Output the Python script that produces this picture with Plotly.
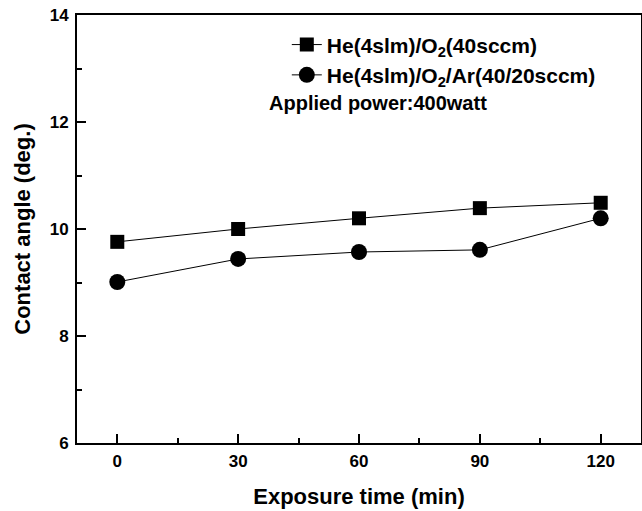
import plotly.graph_objects as go

time_min = [0, 30, 60, 90, 120]
he_o2 = [9.76, 10.0, 10.2, 10.39, 10.49]
he_o2_ar = [9.01, 9.44, 9.57, 9.61, 10.2]
name1 = "He(4slm)/O<sub>2</sub>(40sccm)"
name2 = "He(4slm)/O<sub>2</sub>/Ar(40/20sccm)"
x_ticks = [0, 30, 60, 90, 120]
y_ticks = [6, 8, 10, 12, 14]

FONT = "Liberation Sans, Arial, sans-serif"

fig = go.Figure()
fig.add_trace(go.Scatter(x=time_min, y=he_o2, name=name1, mode="lines+markers",
                         line=dict(color="black", width=1),
                         marker=dict(symbol="square", size=14, color="black")))
fig.add_trace(go.Scatter(x=time_min, y=he_o2_ar, name=name2, mode="lines+markers",
                         line=dict(color="black", width=1),
                         marker=dict(symbol="circle", size=16, color="black")))

axis_common = dict(showgrid=False, zeroline=False, showline=True, linecolor="black",
                   linewidth=2, mirror=True, ticks="inside", tickwidth=2, tickcolor="black",
                   ticklen=9, tickfont=dict(family=FONT, size=17, color="black", weight="bold"))

fig.update_xaxes(range=[-10, 130], tickvals=x_ticks, **axis_common, ticklabelstandoff=2,
                 minor=dict(ticks="inside", ticklen=5, tickwidth=2, tickcolor="black", dtick=15, tick0=15),
                 title=dict(text="Exposure time (min)", font=dict(family=FONT, size=22, color="black", weight="bold"), standoff=18))
fig.update_yaxes(range=[6, 14], tickvals=y_ticks, **axis_common, ticklabelstandoff=3,
                 minor=dict(ticks="inside", ticklen=5, tickwidth=2, tickcolor="black", dtick=1, tick0=7),
                 title=dict(text="Contact angle (deg.)", font=dict(family=FONT, size=22, color="black", weight="bold"), standoff=13))

fig.update_layout(
    width=642, height=511,
    margin=dict(l=77, r=1, t=15, b=68, autoexpand=False),
    plot_bgcolor="white", paper_bgcolor="white",
    showlegend=True,
    legend=dict(x=0.372, y=0.978, xanchor="left", yanchor="top", bgcolor="rgba(0,0,0,0)",
                font=dict(family=FONT, size=21, color="black", weight="bold"),
                tracegroupgap=0),
    annotations=[dict(text="Applied power:400watt", x=(267 - 77) / 564, y=1 - (103 - 15) / 428,
                      xref="paper", yref="paper",
                      xanchor="left", yanchor="middle", showarrow=False,
                      font=dict(family=FONT, size=20, color="black", weight="bold"))],
)

fig.write_html("out.html", config={"displayModeBar": False},
               post_script="document.body.style.margin='0px';")
